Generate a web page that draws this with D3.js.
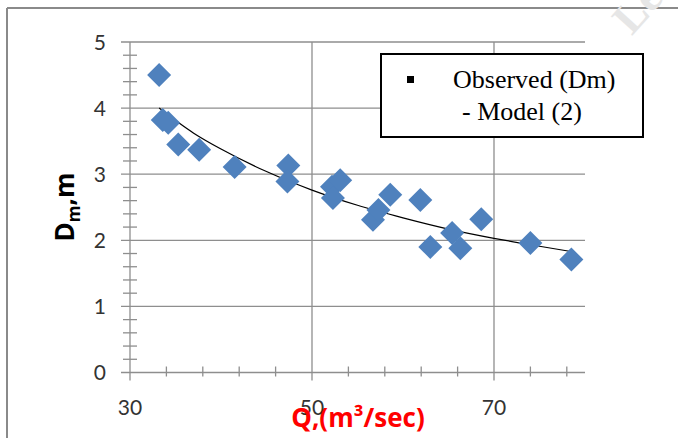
<!DOCTYPE html>
<html>
<head>
<meta charset="utf-8">
<script src="https://cdn.jsdelivr.net/npm/d3@7"></script>
<style>
  body { margin: 0; background: #fff; }
  svg { display: block; }
</style>
</head>
<body>
<div id="chart"></div>
<script>
/* ---- data ---- */
const obsQ = [33.2, 33.6, 34.2, 35.3, 37.6, 41.5, 47.4, 47.3, 52.2, 52.3, 53.1,
              56.7, 57.3, 58.6, 61.9, 63.0, 65.4, 66.3, 68.6, 74.0, 78.5];
const obsD = [4.50, 3.82, 3.78, 3.45, 3.37, 3.11, 3.13, 2.89, 2.81, 2.64, 2.91,
              2.31, 2.46, 2.69, 2.61, 1.90, 2.11, 1.88, 2.32, 1.96, 1.71];

const modelQ = [33.2, 37, 40, 45, 50, 55, 60, 65, 70, 75, 78.5];
const modelD = [4.00, 3.62, 3.38, 3.04, 2.76, 2.53, 2.34, 2.17, 2.03, 1.91, 1.83];

const xMajor = [30, 50, 70];
const xMinor = [34, 38, 42, 46, 54, 58, 62, 66, 74, 78];
const yMajor = [0, 1, 2, 3, 4, 5];
const yMinor = [0.2, 0.4, 0.6, 0.8, 1.2, 1.4, 1.6, 1.8, 2.2, 2.4, 2.6, 2.8,
                3.2, 3.4, 3.6, 3.8, 4.2, 4.4, 4.6, 4.8];

const legendLabels = ['Observed (Dm)', '- Model (2)'];

const W = 678, H = 438;
const gridColor = '#8e8e8e';

const svg = d3.select('#chart')
  .append('svg')
  .attr('width', W)
  .attr('height', H);

const x = d3.scaleLinear().domain([30, 80]).range([130, 585]);
const y = d3.scaleLinear().domain([0, 5]).range([372.5, 42]);

// outer frame (only top and left visible)
svg.append('line')
  .attr('x1', 7).attr('x2', W).attr('y1', 8).attr('y2', 8)
  .attr('stroke', '#8a8a8a').attr('stroke-width', 2);
svg.append('line')
  .attr('x1', 7).attr('x2', 7).attr('y1', 8).attr('y2', H)
  .attr('stroke', '#8a8a8a').attr('stroke-width', 2);

// faint watermark in the corner
svg.append('text')
  .attr('transform', 'translate(648,18) rotate(-48)')
  .attr('text-anchor', 'middle')
  .attr('font-family', 'Liberation Serif, serif')
  .attr('font-size', '44px')
  .attr('font-weight', 'bold')
  .attr('fill', '#e6e6e6')
  .text('Le');

// horizontal grid (includes major tick stub on the left)
svg.selectAll('.hgrid')
  .data(yMajor)
  .join('line')
  .attr('class', 'hgrid')
  .attr('x1', x(30) - 9).attr('x2', x(80))
  .attr('y1', d => y(d)).attr('y2', d => y(d))
  .attr('stroke', gridColor)
  .attr('stroke-width', 1.3);

// vertical grid (includes major tick stub below)
svg.selectAll('.vgrid')
  .data(xMajor)
  .join('line')
  .attr('class', 'vgrid')
  .attr('x1', d => x(d)).attr('x2', d => x(d))
  .attr('y1', y(5)).attr('y2', y(0) + 8)
  .attr('stroke', gridColor)
  .attr('stroke-width', 1.3);

// minor ticks, crossing the axes
svg.selectAll('.ytick-minor')
  .data(yMinor)
  .join('line')
  .attr('x1', x(30) - 7).attr('x2', x(30) + 7)
  .attr('y1', d => y(d)).attr('y2', d => y(d))
  .attr('stroke', gridColor)
  .attr('stroke-width', 1.3);

svg.selectAll('.xtick-minor')
  .data(xMinor)
  .join('line')
  .attr('x1', d => x(d)).attr('x2', d => x(d))
  .attr('y1', y(0) - 6).attr('y2', y(0) + 4)
  .attr('stroke', gridColor)
  .attr('stroke-width', 1.3);

// tick labels
svg.selectAll('.ylab')
  .data(yMajor)
  .join('text')
  .attr('x', 106)
  .attr('y', d => y(d))
  .attr('dy', '0.36em')
  .attr('text-anchor', 'end')
  .attr('font-family', 'Lato, sans-serif')
  .attr('font-size', '21px')
  .attr('fill', '#333')
  .text(d => d);

svg.selectAll('.xlab')
  .data(xMajor)
  .join('text')
  .attr('x', d => x(d))
  .attr('y', 407)
  .attr('dy', '0.36em')
  .attr('text-anchor', 'middle')
  .attr('font-family', 'Lato, sans-serif')
  .attr('font-size', '21px')
  .attr('fill', '#333')
  .text(d => d);

// axis titles
const yTitle = svg.append('text')
  .attr('transform', 'translate(74,207) rotate(-90)')
  .attr('text-anchor', 'middle')
  .attr('font-family', 'Open Sans, sans-serif')
  .attr('font-size', '26px')
  .attr('font-weight', 'bold')
  .attr('fill', '#000');
yTitle.append('tspan').text('D');
yTitle.append('tspan').attr('font-size', '17px').attr('dy', 6).text('m');
yTitle.append('tspan').attr('dy', -6).text(',m');

svg.append('text')
  .attr('x', 358)
  .attr('y', 427)
  .attr('text-anchor', 'middle')
  .attr('font-family', 'Open Sans, sans-serif')
  .attr('font-size', '26px')
  .attr('font-weight', 'bold')
  .attr('fill', '#ff0000')
  .text('Q,(m³/sec)');

// model curve
const modelPts = modelQ.map((q, i) => [q, modelD[i]]);
svg.append('path')
  .datum(modelPts)
  .attr('fill', 'none')
  .attr('stroke', '#000')
  .attr('stroke-width', 1.2)
  .attr('d', d3.line()
    .x(d => x(d[0]))
    .y(d => y(d[1]))
    .curve(d3.curveMonotoneX));

// observed points (diamonds)
const obsPts = obsQ.map((q, i) => [q, obsD[i]]);
svg.selectAll('.pt')
  .data(obsPts)
  .join('path')
  .attr('class', 'pt')
  .attr('transform', d => `translate(${x(d[0])},${y(d[1])})`)
  .attr('d', 'M0,-12L12,0L0,12L-12,0Z')
  .attr('fill', '#4f81bd');

// legend
const lg = svg.append('g');
lg.append('rect')
  .attr('x', 381).attr('y', 54)
  .attr('width', 262).attr('height', 83)
  .attr('fill', '#fff')
  .attr('stroke', '#000')
  .attr('stroke-width', 2);
lg.append('rect')
  .attr('x', 407).attr('y', 76)
  .attr('width', 7).attr('height', 7)
  .attr('fill', '#000');
lg.selectAll('.lg-text')
  .data(legendLabels)
  .join('text')
  .attr('x', (d, i) => i === 0 ? 453 : 462)
  .attr('y', (d, i) => i === 0 ? 88 : 120)
  .attr('font-family', 'Liberation Serif, Times New Roman, serif')
  .attr('font-size', '26px')
  .attr('fill', '#000')
  .text(d => d);
</script>
</body>
</html>
